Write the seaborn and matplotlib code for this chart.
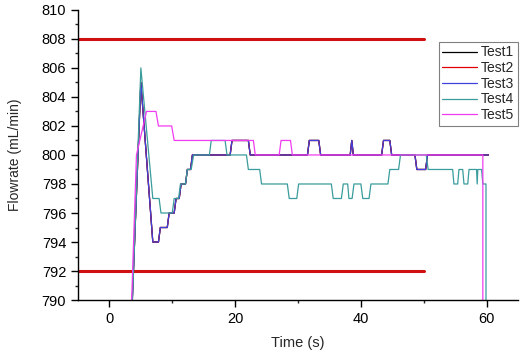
import pandas as pd
import numpy as np
import matplotlib
matplotlib.use("Agg")
import matplotlib.pyplot as plt
from matplotlib.ticker import MultipleLocator
import seaborn as sns

# Flowrate traces (time in s, flowrate in mL/min)
test3_t = [3.0, 5.0, 6.9, 7.8, 8.1, 9.2, 9.5, 10.3, 10.6, 11.1, 11.4, 12.1, 12.4, 12.9,
           13.2, 19.2, 19.5, 22.1, 22.4, 31.5, 31.8, 33.3, 33.6, 38.3, 38.55, 38.8,
           43.3, 43.6, 44.6, 44.9, 48.6, 48.9, 50.3, 50.6, 60.3]
test3_v = [783, 805, 794, 794, 795, 795, 796, 796, 797, 797, 798, 798, 799, 799,
           800, 800, 801, 801, 800, 800, 801, 801, 800, 800, 801, 800,
           800, 801, 801, 800, 800, 799, 799, 800, 800]

# Test1 and Test2 sit underneath Test3 in the original figure
test1_t = list(test3_t)
test1_v = list(test3_v)
test2_t = list(test3_t)
test2_v = list(test3_v)

test4_t = [3.0, 5.0, 6.9, 7.9, 8.2, 10.0, 10.3, 11.0, 11.3, 12.1, 12.4, 13.0, 13.4,
           15.9, 16.2, 18.4, 18.7, 21.8, 22.1, 23.9, 24.2, 28.3, 28.6, 29.8, 30.1,
           35.3, 35.6, 36.9, 37.2, 37.9, 38.1, 38.6, 38.9, 40.0, 40.3, 41.3, 41.6,
           44.3, 44.6, 46.0, 46.3, 50.4, 50.7, 54.6, 54.8, 55.4, 55.6, 56.2, 56.4,
           57.0, 57.2, 58.4, 58.5, 58.6, 59.2, 59.4, 59.9, 59.9]
test4_v = [782, 806, 797, 797, 796, 796, 797, 797, 798, 798, 799, 799, 800,
           800, 801, 801, 800, 800, 799, 799, 798, 798, 797, 797, 798,
           798, 797, 797, 798, 798, 797, 797, 798, 798, 797, 797, 798,
           798, 799, 799, 800, 800, 799, 799, 798, 798, 799, 799, 798,
           798, 799, 799, 798, 799, 799, 798, 798, 780]

test5_t = [3.0, 4.3, 5.9, 7.4, 7.8, 9.9, 10.3, 22.9, 23.2, 27.0, 27.3, 28.8, 29.1,
           59.4, 59.4]
test5_v = [783, 800, 803, 803, 802, 802, 801, 801, 800, 800, 801, 801, 800,
           800, 780]

limit_t = [-5, 50]
upper_limit = [808, 808]
lower_limit = [792, 792]

series = {
    "Test1": (test1_t, test1_v),
    "Test2": (test2_t, test2_v),
    "Test3": (test3_t, test3_v),
    "Test4": (test4_t, test4_v),
    "Test5": (test5_t, test5_v),
}
colors = {"Test1": "#000000", "Test2": "#e00000", "Test3": "#4040dc",
          "Test4": "#3a9c9c", "Test5": "#f03cf0"}

frames = []
for name, (t, v) in series.items():
    frames.append(pd.DataFrame({"Time": t, "Flowrate": v, "Test": name}))
df = pd.concat(frames, ignore_index=True)

sns.set_style("ticks")
plt.rcParams["font.family"] = ["Liberation Sans", "DejaVu Sans"]

fig = plt.figure(figsize=(5.27, 3.53), dpi=100)
ax = fig.add_axes([0.148, 0.150, 0.835, 0.822])

ax.plot(limit_t, upper_limit, color="#d01010", lw=2.2, zorder=1)
ax.plot(limit_t, lower_limit, color="#d01010", lw=2.2, zorder=1)

sns.lineplot(data=df, x="Time", y="Flowrate", hue="Test", palette=colors,
             sort=False, estimator=None, units="Test", lw=0.9, ax=ax, zorder=2)

ax.set_xlim(-5, 65)
ax.set_ylim(790, 810)
ax.xaxis.set_major_locator(MultipleLocator(20))
ax.xaxis.set_minor_locator(MultipleLocator(10))
ax.yaxis.set_major_locator(MultipleLocator(2))
ax.yaxis.set_minor_locator(MultipleLocator(1))
ax.tick_params(which="major", length=5, width=1, direction="out", labelsize=10.5, colors="black")
ax.tick_params(which="minor", length=2.5, width=1, direction="out")
sns.despine(ax=ax)
for sp in ("left", "bottom"):
    ax.spines[sp].set_color("black")
    ax.spines[sp].set_linewidth(1.0)

ax.set_xlabel("Time (s)", fontsize=10.5, labelpad=7)
ax.set_ylabel("Flowrate (mL/min)", fontsize=10, labelpad=14)

handles, labels = ax.get_legend_handles_labels()
leg = ax.legend(handles, labels, loc="upper right", bbox_to_anchor=(0.983, 0.881),
                bbox_transform=fig.transFigure, fontsize=10, frameon=True,
                fancybox=False, framealpha=1, edgecolor="#808080",
                handlelength=2.5, labelspacing=0.12, borderpad=0.25,
                handletextpad=0.3, borderaxespad=0)
leg.get_frame().set_linewidth(0.8)

fig.savefig("out.png", dpi=100)
